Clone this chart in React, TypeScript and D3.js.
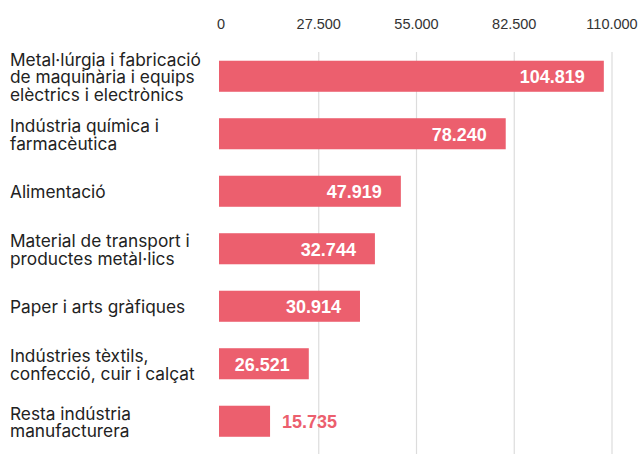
import * as d3 from "d3";

const W = 643;
const H = 454;

const COLORS = {
  bar: "#ec5f6e",
  grid: "#dcdcdc",
  text: "#222222",
  tick: "#333333",
  valueInside: "#ffffff",
};

// category labels, already split into lines as in the picture
const categories = [
  ["Metal·lúrgia i fabricació", "de maquinària i equips", "elèctrics i electrònics"],
  ["Indústria química i", "farmacèutica"],
  ["Alimentació"],
  ["Material de transport i", "productes metàl·lics"],
  ["Paper i arts gràfiques"],
  ["Indústries tèxtils,", "confecció, cuir i calçat"],
  ["Resta indústria", "manufacturera"],
];

// printed value labels
const values = [104819, 78240, 47919, 32744, 30914, 26521, 15735];

// bar lengths (they do not follow the printed labels)
const barValues = [107700, 80100, 50600, 43300, 39100, 24700, 13800];

const tickValues = [0, 27500, 55000, 82500, 110000];

const fmt = (v: number) => d3.format(",")(v).replace(/,/g, ".");

export default function App() {
  const ids = categories.map((_, i) => String(i));

  const x = d3.scaleLinear().domain([0, 110000]).range([221, 612]);
  const y = d3
    .scaleBand()
    .domain(ids)
    .range([47.5, 450])
    .paddingInner(0.46)
    .paddingOuter(0.23);

  const lineH = 17.5;
  const bw = y.bandwidth();

  return (
    <svg
      width={W}
      height={H}
      style={{ position: "absolute", left: 0, top: 0, background: "#fff" }}
    >
      {/* grid */}
      {tickValues
        .filter((t) => t > 0)
        .map((t) => (
          <line
            key={"g" + t}
            x1={x(t)}
            x2={x(t)}
            y1={52}
            y2={H}
            stroke={COLORS.grid}
            strokeWidth={1.2}
          />
        ))}

      {/* ticks */}
      {tickValues.map((t) => (
        <text
          key={"t" + t}
          x={x(t)}
          y={29.3}
          textAnchor="middle"
          fontFamily="Liberation Sans, Arial, sans-serif"
          fontSize={14.5}
          fill={COLORS.tick}
        >
          {fmt(t)}
        </text>
      ))}

      {categories.map((lines, i) => {
        const y0 = y(String(i)) as number;
        const cy = y0 + bw / 2;
        const first = cy - ((lines.length - 1) * lineH) / 2 + 7;
        const end = x(barValues[i]);
        const inside = end - x(0) > 80;
        return (
          <g key={i}>
            <text
              fontFamily="Inter, Roboto, sans-serif"
              fontSize={17.3}
              fill={COLORS.text}
            >
              {lines.map((l, j) => (
                <tspan key={j} x={10} y={first + j * lineH}>
                  {l}
                </tspan>
              ))}
            </text>
            <rect
              x={x(0) - 2}
              y={y0}
              width={end - x(0) + 2}
              height={bw}
              fill={COLORS.bar}
            />
            <text
              x={inside ? end - 19 : end + 12}
              y={cy + 7}
              textAnchor={inside ? "end" : "start"}
              fontFamily="Liberation Sans, Arial, sans-serif"
              fontWeight="bold"
              fontSize={18}
              fill={inside ? COLORS.valueInside : COLORS.bar}
            >
              {fmt(values[i])}
            </text>
          </g>
        );
      })}
    </svg>
  );
}
